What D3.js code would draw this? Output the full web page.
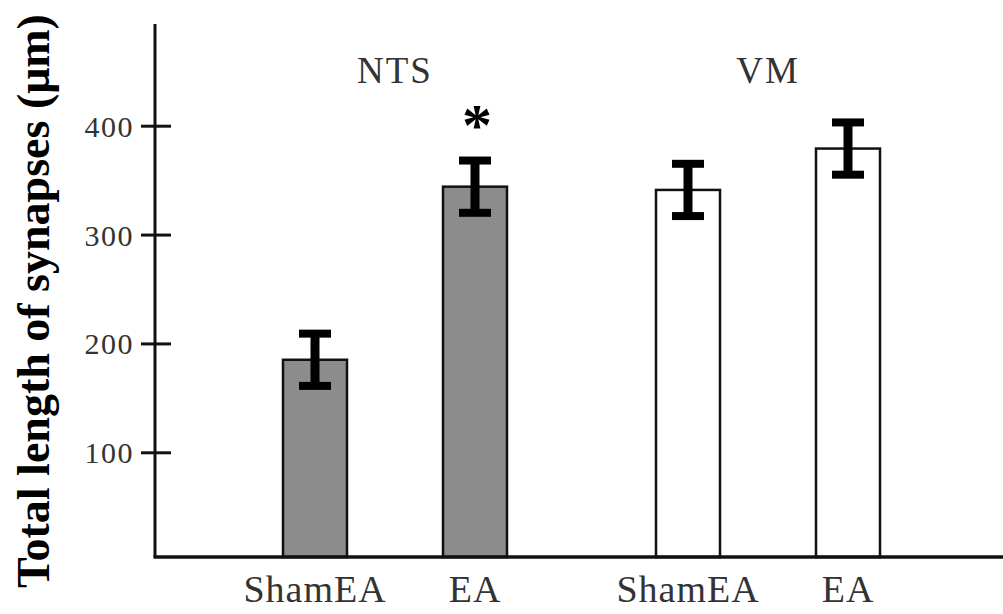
<!DOCTYPE html>
<html>
<head>
<meta charset="utf-8">
<script src="https://cdn.jsdelivr.net/npm/d3@7"></script>
<style>
  body { margin: 0; background: #fff; }
  svg text { font-family: "Liberation Serif", "Times New Roman", serif; }
</style>
</head>
<body>
<div id="chart"></div>
<script>
// data
const regions = ["NTS", "VM"];
const groups = ["ShamEA", "EA"];
const values = [
  { region: "NTS", group: "ShamEA", mean: 185, err: 24 },
  { region: "NTS", group: "EA", mean: 344, err: 24 },
  { region: "VM", group: "ShamEA", mean: 341, err: 24 },
  { region: "VM", group: "EA", mean: 379, err: 24 }
];
const fills = { NTS: "#8c8c8c", VM: "#ffffff" };
const yTicks = [100, 200, 300, 400];
const significant = [{ region: "NTS", group: "EA", label: "*" }];
const yTitle = "Total length of synapses (\u03bcm)";

const width = 1003, height = 614;
const axisX = 155, axisTop = 24, axisBottom = 557;

const svg = d3.select("#chart")
  .append("svg")
    .attr("width", width)
    .attr("height", height);

// scales
const y = d3.scaleLinear().domain([100, 400]).range([452.3, 125.7]);
const xRegion = d3.scalePoint().domain(regions).range([395, 768]);
const xGroup = d3.scalePoint().domain(groups).range([-80, 80]);
const barW = 64;
const cx = d => xRegion(d.region) + xGroup(d.group);

// y axis ticks (cross the axis line)
const yAxis = svg.append("g")
  .attr("transform", `translate(${axisX},0)`)
  .call(d3.axisLeft(y).tickValues(yTicks).tickSize(14).tickPadding(7));
yAxis.select(".domain").remove();
yAxis.selectAll(".tick line")
  .attr("x1", 16)
  .attr("stroke", "#111")
  .attr("stroke-width", 3);
yAxis.selectAll(".tick text")
  .attr("font-size", "30px")
  .attr("letter-spacing", "1.5px")
  .attr("fill", "#333")
  .attr("dy", "0.35em")
  .attr("font-family", "Liberation Serif, serif");

// bars
svg.selectAll(".bar")
  .data(values)
  .join("rect")
    .attr("class", "bar")
    .attr("x", d => cx(d) - barW / 2)
    .attr("y", d => y(d.mean))
    .attr("width", barW)
    .attr("height", d => axisBottom - y(d.mean))
    .attr("fill", d => fills[d.region])
    .attr("stroke", "#111")
    .attr("stroke-width", 2.5);

// error bars
const eb = svg.selectAll(".err")
  .data(values)
  .join("g")
    .attr("class", "err")
    .attr("stroke", "#000");
eb.append("line")
  .attr("x1", cx).attr("x2", cx)
  .attr("y1", d => y(d.mean + d.err))
  .attr("y2", d => y(d.mean - d.err))
  .attr("stroke-width", 9);
eb.append("line")
  .attr("x1", d => cx(d) - 16).attr("x2", d => cx(d) + 16)
  .attr("y1", d => y(d.mean + d.err)).attr("y2", d => y(d.mean + d.err))
  .attr("stroke-width", 8);
eb.append("line")
  .attr("x1", d => cx(d) - 16).attr("x2", d => cx(d) + 16)
  .attr("y1", d => y(d.mean - d.err)).attr("y2", d => y(d.mean - d.err))
  .attr("stroke-width", 8);

// axis lines
svg.append("line")
  .attr("x1", axisX).attr("x2", axisX)
  .attr("y1", axisTop).attr("y2", axisBottom)
  .attr("stroke", "#111").attr("stroke-width", 3);
svg.append("line")
  .attr("x1", axisX - 1.5).attr("x2", width)
  .attr("y1", axisBottom).attr("y2", axisBottom)
  .attr("stroke", "#111").attr("stroke-width", 3.5);

// category labels
svg.selectAll(".cat")
  .data(values)
  .join("text")
    .attr("class", "cat")
    .attr("x", cx)
    .attr("y", 602)
    .attr("text-anchor", "middle")
    .attr("font-size", "38px")
    .attr("letter-spacing", "1px")
    .attr("fill", "#333")
    .text(d => d.group);

// region labels
svg.selectAll(".region")
  .data(regions)
  .join("text")
    .attr("class", "region")
    .attr("x", d => xRegion(d))
    .attr("y", 83)
    .attr("text-anchor", "middle")
    .attr("font-size", "37px")
    .attr("letter-spacing", "2px")
    .attr("fill", "#333")
    .text(d => d);

// significance
svg.selectAll(".sig")
  .data(significant)
  .join("text")
    .attr("class", "sig")
    .attr("x", d => xRegion(d.region) + xGroup(d.group) + 2)
    .attr("y", 145)
    .attr("text-anchor", "middle")
    .attr("font-size", "60px")
    .attr("font-weight", "bold")
    .attr("fill", "#000")
    .text(d => d.label);

// y title
svg.append("text")
  .attr("transform", "translate(49,301) rotate(-90)")
  .attr("text-anchor", "middle")
  .attr("font-size", "46px")
  .attr("font-weight", "bold")
  .attr("fill", "#000")
  .text(yTitle);
</script>
</body>
</html>
